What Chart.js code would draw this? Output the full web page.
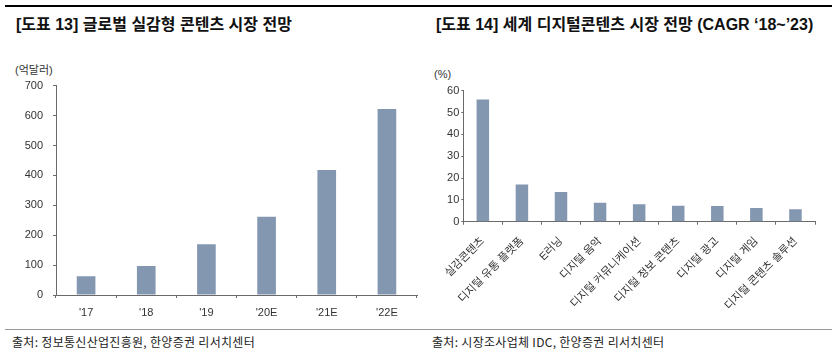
<!DOCTYPE html>
<html><head><meta charset="utf-8">
<script src="https://cdn.jsdelivr.net/npm/chart.js@4.4.0/dist/chart.umd.min.js"></script>
<style>
html,body{margin:0;padding:0;background:#fff;}
body{width:838px;height:358px;position:relative;overflow:hidden;font-family:'Liberation Sans','Noto Sans CJK KR',sans-serif;}
.abs{position:absolute;white-space:nowrap;}
.title{font-family:'Liberation Sans','Noto Sans CJK KR',sans-serif;font-weight:700;font-size:16px;line-height:18px;color:#111;top:16px;}
.unit{font-family:'Liberation Sans','Noto Sans CJK KR',sans-serif;font-size:11px;line-height:13px;color:#333;}
.src{font-family:'Noto Sans CJK KR',sans-serif;font-size:12px;line-height:16px;color:#222;top:334px;letter-spacing:0.3px;}
canvas{position:absolute;}
</style></head>
<body>
<div class="abs" style="left:5px;top:5px;width:827px;height:2px;background:#000;"></div>
<div class="abs title" id="t1" style="left:16px;">[도표 13] 글로벌 실감형 콘텐츠 시장 전망</div>
<div class="abs title" id="t2" style="left:436px;">[도표 14] 세계 디지털콘텐츠 시장 전망 (CAGR ‘18~’23)</div>
<div class="abs unit" style="left:15px;top:64px;">(억달러)</div>
<div class="abs unit" style="left:434px;top:68px;">(%)</div>
<canvas id="c1" width="420" height="270" style="left:0;top:60px;width:420px;height:270px;"></canvas>
<canvas id="c2" width="418" height="270" style="left:420px;top:60px;width:418px;height:270px;"></canvas>
<div class="abs" style="left:5px;top:329px;width:827px;height:1px;background:#999;"></div>
<div class="abs src" style="left:12px;">출처: 정보통신산업진흥원, 한양증권 리서치센터</div>
<div class="abs src" style="left:432px;">출처: 시장조사업체 IDC, 한양증권 리서치센터</div>
<script>
// ---- data ----
const years = ["'17", "'18", "'19", "'20E", "'21E", "'22E"];
const immersiveMarket = [63, 97, 170, 262, 418, 622];
const contentCategories = ["실감콘텐츠", "디지털 유통 플랫폼", "E러닝", "디지털 음악", "디지털 커뮤니케이션", "디지털 정보 콘텐츠", "디지털 광고", "디지털 게임", "디지털 콘텐츠 솔루션"];
const cagrValues = [56, 17, 13.6, 8.7, 8.0, 7.3, 7.2, 6.3, 5.7];
const leftTicks = [0, 100, 200, 300, 400, 500, 600, 700];
const rightTicks = [0, 10, 20, 30, 40, 50, 60];

const BAR = '#8497b0';
const AXIS = '#6a6a6a';
const TXT = '#333';
const FONT = "'Liberation Sans','Noto Sans CJK KR',sans-serif";

function makeChart(id, labels, values, ticks, o) {
  return new Chart(document.getElementById(id), {
    type: 'bar',
    data: { labels: labels, datasets: [{ data: values, backgroundColor: BAR, borderWidth: 0,
      categoryPercentage: 1, barPercentage: o.barPct }] },
    options: {
      responsive: false, animation: false, devicePixelRatio: 1,
      layout: { padding: { left: 0, right: 0, top: 0, bottom: 0 } },
      plugins: { legend: { display: false }, tooltip: { enabled: false } },
      scales: {
        x: {
          grid: { display: true, drawOnChartArea: false, drawTicks: true, tickLength: 3, color: AXIS, offset: true },
          border: { display: true, color: AXIS, width: 1 },
          ticks: { color: TXT, font: { family: FONT, size: 11 }, autoSkip: false,
            minRotation: o.rot, maxRotation: o.rot, padding: o.xPad }
        },
        y: {
          min: ticks[0], max: ticks[ticks.length - 1],
          afterBuildTicks: (s) => { s.ticks = ticks.map(v => ({ value: v })); },
          grid: { display: true, drawOnChartArea: false, drawTicks: true, tickLength: o.yTick, color: AXIS },
          border: { display: true, color: AXIS, width: 1 },
          ticks: { color: TXT, font: { family: FONT, size: 11 }, padding: o.yPad }
        }
      }
    }
  });
}

function fit(chart, t) {
  for (let i = 0; i < 5; i++) {
    const a = chart.chartArea, p = chart.options.layout.padding;
    p.left += t.left - a.left;
    p.top += t.top - a.top;
    p.right += a.right - t.right;
    p.bottom += a.bottom - t.bottom;
    chart.update('none');
  }
}

const c1 = makeChart('c1', years, immersiveMarket, leftTicks, { barPct: 0.31, rot: 0, xPad: 8, yTick: 3, yPad: 10 });
fit(c1, { left: 56, top: 25.7, right: 417, bottom: 235 });

const c2 = makeChart('c2', contentCategories, cagrValues, rightTicks, { barPct: 0.32, rot: 45, xPad: 10, yTick: 2, yPad: 2 });
fit(c2, { left: 43.3, top: 30.7, right: 395, bottom: 161.7 });
</script>
</body></html>
